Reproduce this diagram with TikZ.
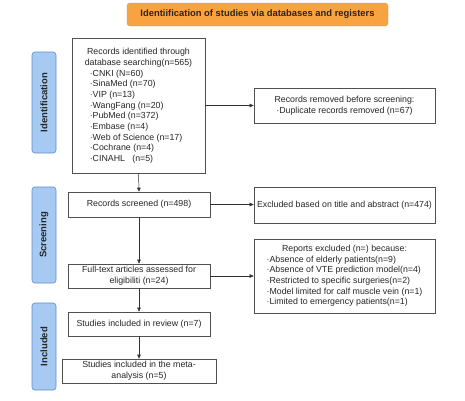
\documentclass[tikz,border=0pt]{standalone}
\usepackage{fontspec}
\setmainfont{Liberation Sans}
\usetikzlibrary{arrows.meta}
\definecolor{orng}{RGB}{249,162,66}
\definecolor{orngd}{RGB}{240,150,60}
\definecolor{bluef}{RGB}{166,202,242}
\definecolor{blued}{RGB}{95,140,200}
\definecolor{boxd}{RGB}{80,80,80}
\begin{document}
\begin{tikzpicture}[x=1pt,y=-1pt,
  every node/.style={font=\fontsize{8.8}{10.7}\selectfont, inner sep=0pt, text=black!85},
  box/.style={draw=boxd, line width=0.6pt, fill=white},
  side/.style={draw=blued, fill=bluef, rounded corners=3pt, line width=0.6pt},
  sidelabel/.style={rotate=90, font=\fontsize{9.5}{10}\selectfont\bfseries},
  arr/.style={-{Triangle[length=4pt,width=3.5pt]}, draw=black!80, line width=0.5pt}]
\useasboundingbox (0,0) rectangle (465,400);
% title
\node[draw=orngd, fill=orng, rounded corners=3pt, minimum width=261, minimum height=23,
  font=\fontsize{9.4}{10}\selectfont\bfseries] (title) at (257.5,14.5) {Identiification of studies via databases and registers};
% side boxes
\node[side, minimum width=24, minimum height=101] (sid) at (44,102.5) {};
\node[sidelabel] (sidt) at (sid.center) {Identification};
\node[side, minimum width=24, minimum height=96] (sscr) at (44,235) {};
\node[sidelabel] (sscrt) at (sscr.center) {Screening};
\node[side, minimum width=24, minimum height=87] (sinc) at (44,346.5) {};
\node[sidelabel] (sinct) at (sinc.center) {Included};
% boxes
\node[box, minimum width=133, minimum height=135] (rec) at (138.5,105.5) {};
\node (rect) at (138.5,106) {\begin{tabular}{@{}l@{}}
\multicolumn{1}{@{}c@{}}{Records identified through}\\
\multicolumn{1}{@{}c@{}}{database searching(n=565)}\\
\hspace{5pt}·CNKI (N=60)\\
\hspace{5pt}·SinaMed (n=70)\\
\hspace{5pt}·VIP (n=13)\\
\hspace{5pt}·WangFang (n=20)\\
\hspace{5pt}·PubMed (n=372)\\
\hspace{5pt}·Embase (n=4)\\
\hspace{5pt}·Web of Science (n=17)\\
\hspace{5pt}·Cochrane (n=4)\\
\hspace{5pt}·CINAHL\ \ \ (n=5)
\end{tabular}};
\node[box, minimum width=181, minimum height=35, align=center] (rem) at (344.5,105.5)
  {Records removed before screening:\\·Duplicate records removed (n=67)};
\node[box, minimum width=142, minimum height=25] (scr) at (139,204.5) {Records screened (n=498)};
\node[box, minimum width=181, minimum height=36] (exc) at (344.5,205) {Excluded based on title and abstract (n=474)};
\node[box, minimum width=181, minimum height=74] (rep) at (344.5,276) {};
\node (rept) at (344.5,276) {\begin{tabular}{@{}l@{}}
\multicolumn{1}{@{}c@{}}{Reports excluded (n=) because:}\\
·Absence of elderly patients(n=9)\\
·Absence of VTE prediction model(n=4)\\
·Restricted to specific surgeries(n=2)\\
·Model limited for calf muscle vein (n=1)\\
·Limited to emergency patients(n=1)
\end{tabular}};
\node[box, minimum width=142, minimum height=24, align=center] (ft) at (139,276)
  {Full-text articles assessed for\\eligibiliti (n=24)};
\node[box, minimum width=142, minimum height=24] (inc) at (139,324) {Studies included in review (n=7)};
\node[box, minimum width=154, minimum height=24, align=center] (meta) at (139,371)
  {Studies included in the meta-\\analysis (n=5)};
% arrows
\draw[arr] (rec.south) -- (scr.north);
\draw[arr] (scr.south) -- (ft.north);
\draw[arr] (ft.south) -- (inc.north);
\draw[arr] (inc.south) -- (meta.north);
\draw[arr] (rec.east) -- (rem.west);
\draw[arr] (scr.east) -- (scr.east -| exc.west);
\draw[arr] (ft.east) -- (ft.east -| rep.west);
\end{tikzpicture}
\end{document}
